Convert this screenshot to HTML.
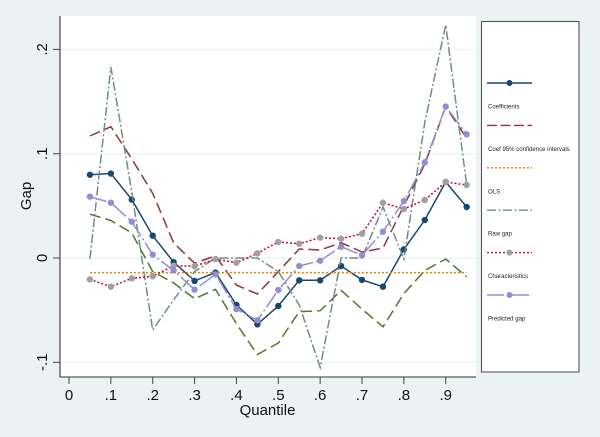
<!DOCTYPE html>
<html>
<head>
<meta charset="utf-8">
<title>Gap by quantile</title>
<style>
html,body{margin:0;padding:0;background:#eaf2f3;}
svg{display:block;font-family:"Liberation Sans",sans-serif;}
</style>
</head>
<body>
<svg id="chart" xmlns="http://www.w3.org/2000/svg" width="600" height="437" viewBox="0 0 600 437">
<rect x="0" y="0" width="600" height="437" fill="#eaf2f3"/>
<rect x="60" y="16" width="416" height="361" fill="#ffffff"/>
<g id="grid"></g>
<g id="series"></g>
<g id="axes"></g>
<text transform="translate(31,196) rotate(-90)" text-anchor="middle" font-size="15" fill="#111">Gap</text>
<text x="267.5" y="415" text-anchor="middle" font-size="15" fill="#111">Quantile</text>
<g>
<rect x="481.5" y="21.5" width="97.5" height="350.5" fill="#fff" stroke="#555" stroke-width="1.1"/>
<g id="legend-items"></g>
</g>
</svg>
<script>
const quantiles = [.05,.1,.15,.2,.25,.3,.35,.4,.45,.5,.55,.6,.65,.7,.75,.8,.85,.9,.95];
const coefficients = [.0798,.081,.056,.0214,-.004,-.022,-.014,-.045,-.0636,-.046,-.0214,-.0214,-.0077,-.021,-.0275,.0083,.0364,.0729,.0489];
const ciUpper = [.117,.1259,.095,.062,.0144,-.005,.002,-.026,-.0345,-.013,.0086,.0077,.0147,.0058,.0096,.05,.09,.145,.115];
const ciLower = [.042,.036,.024,-.013,-.024,-.039,-.03,-.063,-.0925,-.0815,-.0515,-.0505,-.031,-.049,-.066,-.034,-.012,-.001,-.018];
const ols = [-.014,-.014,-.014,-.014,-.014,-.014,-.014,-.014,-.014,-.014,-.014,-.014,-.014,-.014,-.014,-.014,-.014,-.014,-.014];
const rawGap = [-.0205,-.0275,-.0195,-.0175,-.0074,-.0079,-.001,-.0045,.0045,.0153,.0137,.0195,.0185,.0233,.053,.047,.0556,.0729,.07];
const characteristics = [-.001,.183,.063,-.069,-.04,-.013,0,0,0,-.013,-.045,-.105,0,0,.049,-.001,.13,.2234,.07];
const predictedGap = [.0588,.053,.0348,.0032,-.012,-.0304,-.0156,-.049,-.0597,-.0307,-.0077,-.0026,.0108,.0026,.0252,.0546,.0917,.1452,.1186];
const xTicks = [0,.1,.2,.3,.4,.5,.6,.7,.8,.9];
const yTicks = [-.1,0,.1,.2];
const seriesLabels = ["Coefficients","Coef 95% confidence intervals","OLS","Raw gap","Characteristics","Predicted gap"];

const NS = "http://www.w3.org/2000/svg";
function xScale(v){ return 69 + v * 418.6; }
function yScale(v){ return 258 - v * 1043; }
function tickText(v){
  if (v === 0) return "0";
  return (v < 0 ? "-" : "") + String(Math.abs(v)).replace(/^0/, "");
}
function make(tag, attrs, parent){
  const el = document.createElementNS(NS, tag);
  for (const k in attrs) el.setAttribute(k, attrs[k]);
  parent.appendChild(el);
  return el;
}
const gridG = document.getElementById("grid");
const axesG = document.getElementById("axes");
const seriesG = document.getElementById("series");
const legendG = document.getElementById("legend-items");

yTicks.forEach(function(t){
  const g = make("line", {x1:60, x2:476, y1:yScale(t), y2:yScale(t), stroke:"#eaf2f3", "stroke-width":1.2}, gridG);
  
  
  const tk = make("line", {x1:53, x2:60, y1:yScale(t), y2:yScale(t), stroke:"#444", "stroke-width":1}, axesG);
  
  
  const lb = make("text", {transform:"translate(47,"+yScale(t)+") rotate(-90)", "text-anchor":"middle", "font-size":15, fill:"#111"}, axesG);
  lb.textContent = tickText(t);
  
  
});
xTicks.forEach(function(t){
  const tk = make("line", {x1:xScale(t), x2:xScale(t), y1:377, y2:384, stroke:"#444", "stroke-width":1}, axesG);
  
  
  const lb = make("text", {x:xScale(t), y:400, "text-anchor":"middle", "font-size":15, fill:"#111"}, axesG);
  lb.textContent = tickText(t);
  
  
});
const yAxis = make("line", {x1:60, x2:60, y1:16, y2:377.5, stroke:"#333", "stroke-width":1.1}, axesG);


const xAxis = make("line", {x1:59.5, x2:476, y1:377, y2:377, stroke:"#333", "stroke-width":1.1}, axesG);



const seriesData = [coefficients, ciUpper, ciLower, ols, characteristics, rawGap, predictedGap];
const seriesColors = ["#1a476f","#90353b","#55752f","#e37e00","#6e8e84","#c10534","#938dd2"];
const seriesDash = ["", "11 5", "11 5", "2 2", "9 2.5 2 2.5", "2 2", "17 3 2 3"];
const seriesMarker = ["#1a476f", null, null, null, null, "#a0a0a0", "#938dd2"];
seriesData.forEach(function(vals, i){
  const pts = vals.map(function(v, j){ return xScale(quantiles[j]).toFixed(1) + "," + yScale(v).toFixed(1); }).join(" ");
  const line = make("polyline", {points:pts, fill:"none", stroke:seriesColors[i], "stroke-width":1.5, "stroke-dasharray":seriesDash[i], "stroke-linejoin":"miter"}, seriesG);
  
  
  if (seriesMarker[i]) {
    vals.forEach(function(v, j){
      const c = make("circle", {cx:xScale(quantiles[j]), cy:yScale(v), r:3.2, fill:seriesMarker[i]}, seriesG);
      
      
    });
  }
});

const legendColors = ["#1a476f","#90353b","#e37e00","#6e8e84","#c10534","#938dd2"];
const legendDash = ["", "10 3.5", "2 2", "9 2.5 2 2.5", "2 2", "17 3 2 3"];
const legendMarker = ["#1a476f", null, null, null, "#a0a0a0", "#938dd2"];
seriesLabels.forEach(function(label, i){
  const ly = 83 + i * 42.4;
  const s = make("line", {x1:487, x2:532, y1:ly, y2:ly, stroke:legendColors[i], "stroke-width":1.4, "stroke-dasharray":legendDash[i]}, legendG);
  
  
  if (legendMarker[i]) {
    const m = make("circle", {cx:509.5, cy:ly, r:3, fill:legendMarker[i]}, legendG);
    
    
  }
  const t = make("text", {x:488, y:ly + 25.5, "font-size":6.05, fill:"#222"}, legendG);
  t.textContent = label;
  
  
});
</script>
</body>
</html>
